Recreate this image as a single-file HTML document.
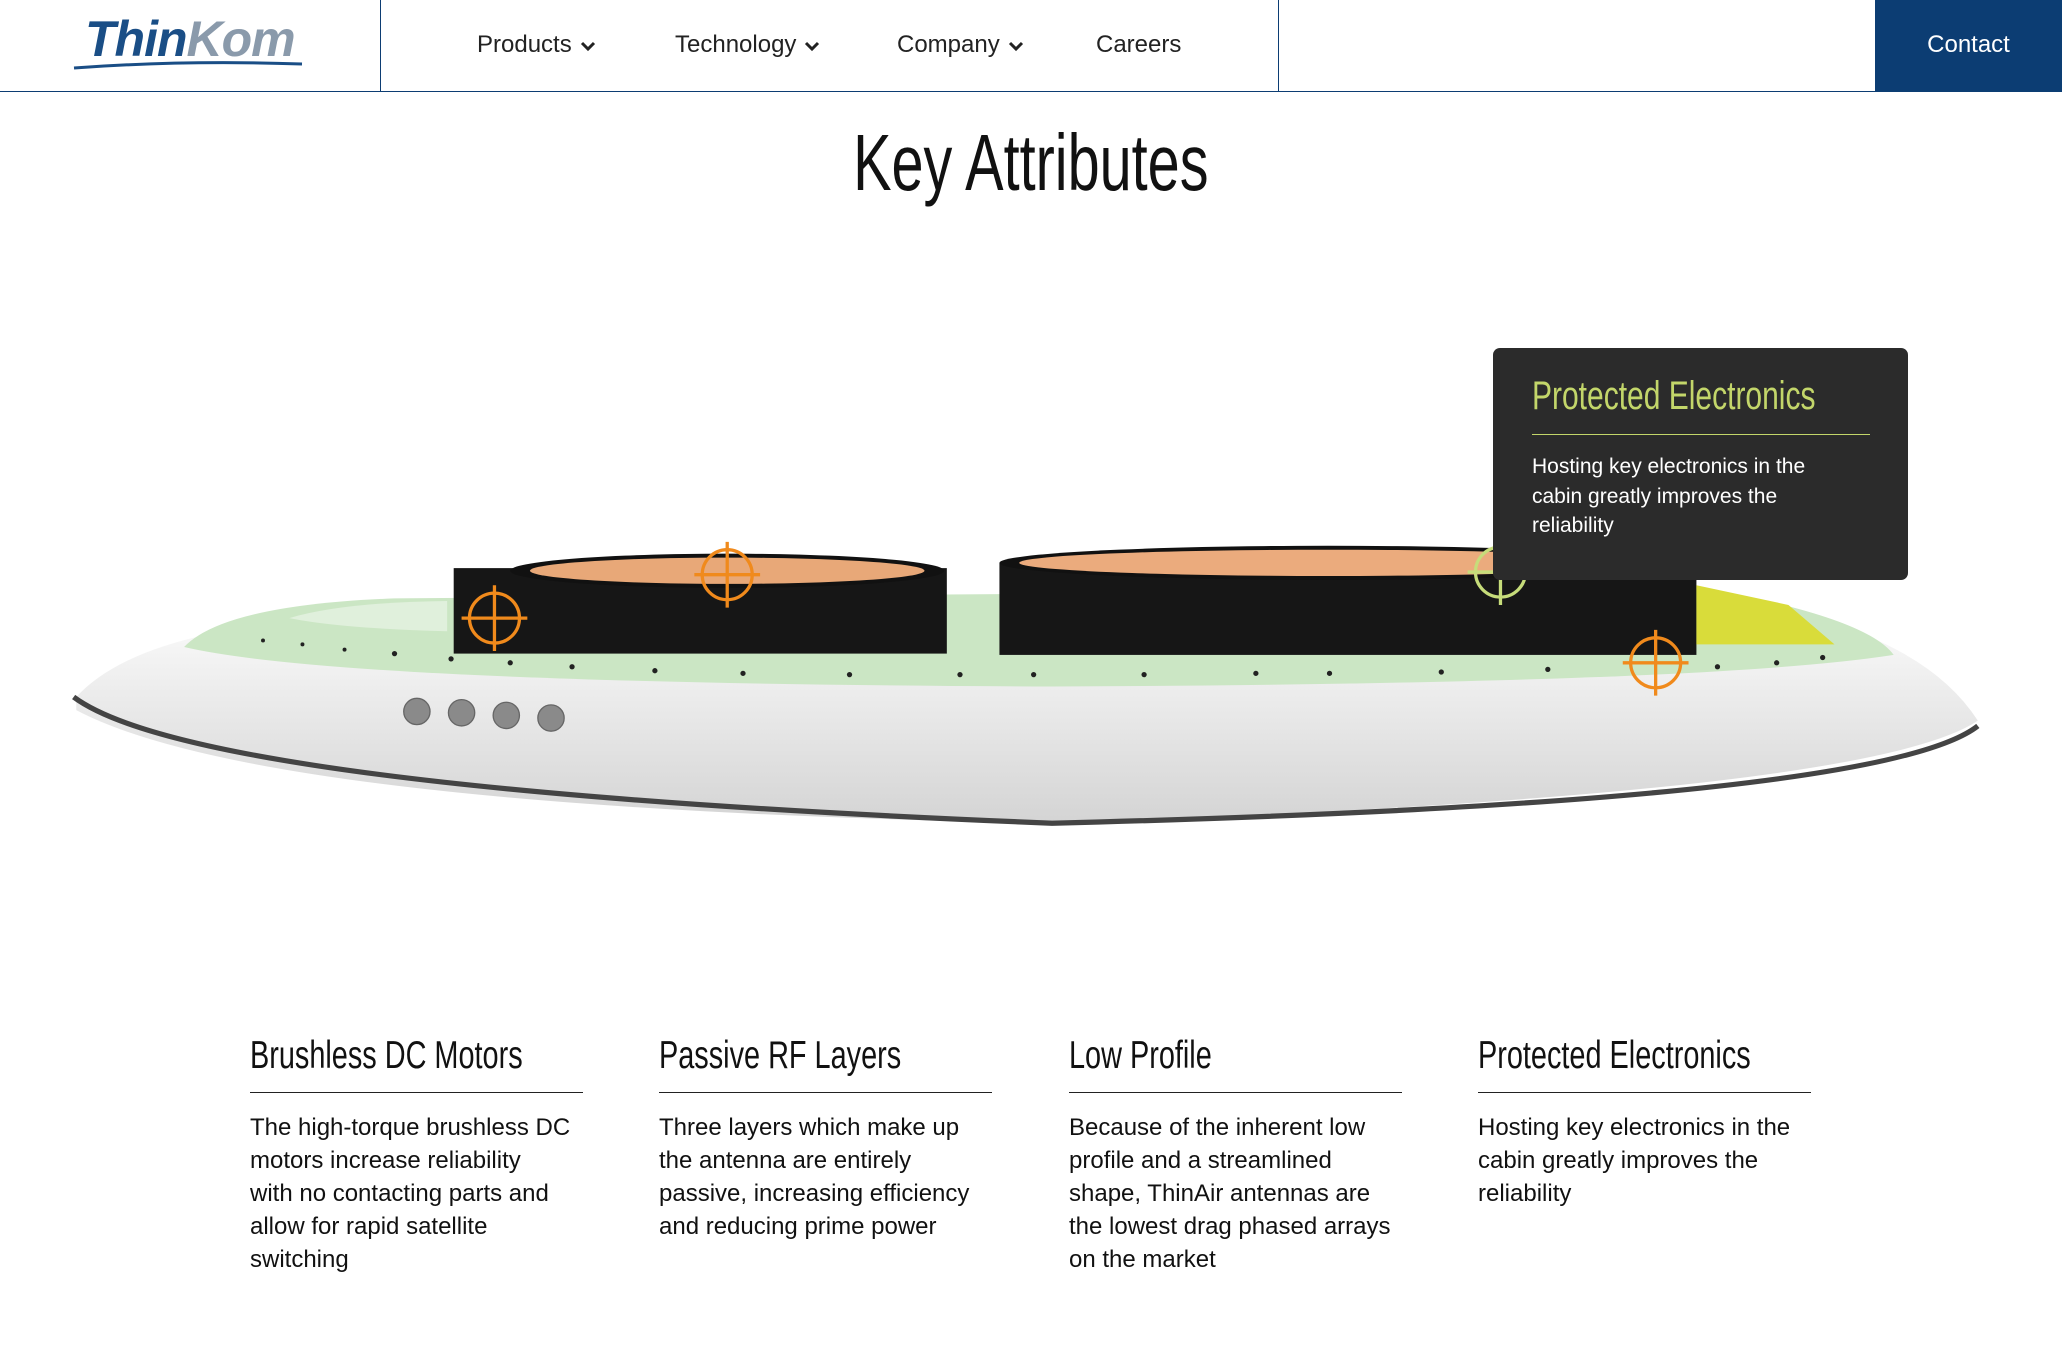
<!DOCTYPE html>
<html><head><meta charset="utf-8">
<style>
html,body{margin:0;padding:0;background:#fff;}
body{width:2062px;height:1364px;position:relative;overflow:hidden;font-family:"Liberation Sans",sans-serif;color:#111;}
.hdr{position:absolute;left:0;top:0;width:2062px;height:91px;border-bottom:1px solid #0c3d73;}
.vl{position:absolute;top:0;width:1px;height:91px;background:#0c3d73;}
.nav{position:absolute;top:31px;font-size:24px;color:#222;}
.nav svg{vertical-align:middle;margin-left:8px}
.contact{position:absolute;left:1875px;top:0;width:187px;height:92px;background:#0c3d73;color:#fff;font-size:24px;text-align:center;line-height:90px;}
.cond{display:inline-block;transform-origin:left center;transform:scaleX(0.74);white-space:nowrap;}
.title{position:absolute;left:0;width:2062px;top:118px;text-align:center;font-size:80px;line-height:90px;}
.title span{transform-origin:center center;transform:scaleX(0.72)}
.tip{position:absolute;left:1493px;top:348px;width:415px;height:232px;background:#2b2b2b;border-radius:7px;}
.tip h3{position:absolute;left:39px;top:26px;margin:0;font-weight:normal;font-size:40px;color:#c3d66a;}
.tip h3 .cond{transform:scaleX(0.75)}
.tip .ln{position:absolute;left:39px;top:86px;width:338px;height:1px;background:#c3d66a;}
.tip p{position:absolute;left:39px;top:104px;margin:0;width:300px;color:#fff;font-size:21px;line-height:29.5px;}
.col{position:absolute;top:1030px;width:340px;}
.col h2{margin:0;font-weight:normal;font-size:39px;line-height:52px;}
.col .ln{width:333px;height:1px;background:#222;margin-top:10px;}
.col p{margin:18px 0 0;font-size:24px;line-height:33px;width:330px;}
</style></head><body>
<div class="hdr">
 <div style="position:absolute;left:85px;top:10px;font-size:50px;font-style:italic;font-weight:bold;color:#1a4e86;letter-spacing:-1px"><span>Thin</span><span style="color:#8a9aab">Kom</span></div>
 <svg style="position:absolute;left:72px;top:58px" width="232" height="12"><path d="M2 10 Q110 2 230 6" stroke="#1a4e86" stroke-width="3" fill="none"/></svg>
 <div class="vl" style="left:380px"></div>
 <div class="vl" style="left:1278px"></div>
 <div class="nav" style="left:477px">Products<svg width="16" height="12"><path d="M2 3 L8 9 L14 3" stroke="#222" stroke-width="3" fill="none"/></svg></div>
 <div class="nav" style="left:675px">Technology<svg width="16" height="12"><path d="M2 3 L8 9 L14 3" stroke="#222" stroke-width="3" fill="none"/></svg></div>
 <div class="nav" style="left:897px">Company<svg width="16" height="12"><path d="M2 3 L8 9 L14 3" stroke="#222" stroke-width="3" fill="none"/></svg></div>
 <div class="nav" style="left:1096px">Careers</div>
</div>
<div class="contact">Contact</div>
<div class="title"><span class="cond">Key Attributes</span></div>

<svg style="position:absolute;left:0;top:0" width="2062" height="1364" viewBox="0 0 1568 1037.2">
 <defs>
  <linearGradient id="bd" x1="0" y1="0" x2="0" y2="1"><stop offset="0" stop-color="#fafafa"/><stop offset="1" stop-color="#d4d4d4"/></linearGradient>
 </defs>
 <path d="M58 530 Q90 495 170 480 L1380 470 Q1470 495 1504 548 Q1420 605 800 626 Q200 615 58 540 Z" fill="url(#bd)"/>
 <path d="M56 530 Q150 600 800 626 Q1430 610 1504 552" stroke="#444" stroke-width="4" fill="none"/>
 <path d="M140 492 Q170 460 300 455 L1300 448 Q1420 470 1440 498 Q1300 520 800 522 Q260 520 140 492 Z" fill="#cbe6c4"/>
 <path d="M220 470 Q260 458 340 457 L340 480 Q260 478 220 470Z" fill="#e0f0dc"/>
 <rect x="345" y="432" width="375" height="65" fill="#161616"/>
 <ellipse cx="553" cy="434" rx="165" ry="13" fill="#111"/>
 <ellipse cx="553" cy="434" rx="150" ry="10" fill="#e8a878"/>
 <rect x="760" y="428" width="530" height="70" fill="#161616"/>
 <ellipse cx="1010" cy="428" rx="250" ry="13" fill="#111"/>
 <ellipse cx="1010" cy="428" rx="235" ry="10" fill="#ebab7d"/>
 <path d="M1290 445 L1360 460 L1395 490 L1290 490Z" fill="#d9dc3a"/>
 <g fill="#222">
  <circle cx="300" cy="497" r="2"/><circle cx="343" cy="501" r="2"/><circle cx="388" cy="504" r="2"/><circle cx="435" cy="507" r="2"/><circle cx="498" cy="510" r="2"/><circle cx="565" cy="512" r="2"/><circle cx="646" cy="513" r="2"/><circle cx="730" cy="513" r="2"/><circle cx="786" cy="513" r="2"/><circle cx="870" cy="513" r="2"/><circle cx="955" cy="512" r="2"/><circle cx="1011" cy="512" r="2"/><circle cx="1096" cy="511" r="2"/><circle cx="1177" cy="509" r="2"/><circle cx="1306" cy="507" r="2"/><circle cx="1351" cy="504" r="2"/><circle cx="1386" cy="500" r="2"/><circle cx="262" cy="494" r="1.5"/><circle cx="230" cy="490" r="1.5"/><circle cx="200" cy="487" r="1.5"/>
 </g>
 <g fill="#8a8a8a" stroke="#666"><circle cx="317" cy="541" r="10"/><circle cx="351" cy="542" r="10"/><circle cx="385" cy="544" r="10"/><circle cx="419" cy="546" r="10"/></g>
 <g fill="none" stroke-width="2.5">
  <g stroke="#f08a1c"><circle cx="376" cy="470" r="19"/><path d="M376 445V495M351 470H401"/></g>
  <g stroke="#f08a1c"><circle cx="553" cy="437" r="19"/><path d="M553 412V462M528 437H578"/></g>
  <g stroke="#f08a1c"><circle cx="1259" cy="504" r="19"/><path d="M1259 479V529M1234 504H1284"/></g>
  <g stroke="#c6dc7a"><circle cx="1141" cy="435" r="19"/><path d="M1141 410V460M1116 435H1166"/></g>
 </g>
</svg>

<div class="tip"><h3><span class="cond">Protected Electronics</span></h3><div class="ln"></div><p>Hosting key electronics in the cabin greatly improves the reliability</p></div>

<div class="col" style="left:250px"><h2><span class="cond">Brushless DC Motors</span></h2><div class="ln"></div><p style="width:400px;white-space:nowrap">The high-torque brushless DC<br>motors increase reliability<br>with no contacting parts and<br>allow for rapid satellite<br>switching</p></div>
<div class="col" style="left:659px"><h2><span class="cond">Passive RF Layers</span></h2><div class="ln"></div><p>Three layers which make up the antenna are entirely passive, increasing efficiency and reducing prime power</p></div>
<div class="col" style="left:1069px"><h2><span class="cond">Low Profile</span></h2><div class="ln"></div><p>Because of the inherent low profile and a streamlined shape, ThinAir antennas are the lowest drag phased arrays on the market</p></div>
<div class="col" style="left:1478px"><h2><span class="cond">Protected Electronics</span></h2><div class="ln"></div><p>Hosting key electronics in the cabin greatly improves the reliability</p></div>
</body></html>
